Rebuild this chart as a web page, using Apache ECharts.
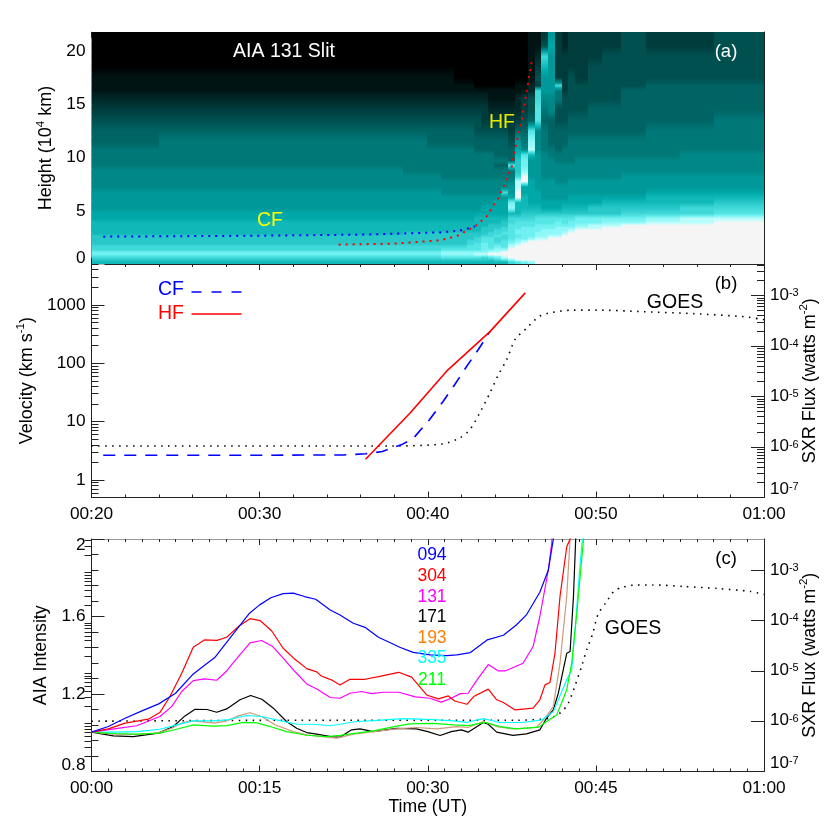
<!DOCTYPE html>
<html><head><meta charset="utf-8">
<style>html,body{margin:0;padding:0;background:#fff}#c{width:830px;height:830px}</style>
<script src="https://cdn.jsdelivr.net/npm/echarts@6/dist/echarts.min.js"></script>
</head><body><div id="c"></div>
<script>
// ---------- panel (a): height-time map, one code per cell, top row first ----------
const timeEdges = [20,24,28,32,35,37,38.5,39.96,40.76,41.56,42.36,42.76,43.16,43.56,43.96,44.36,44.76,45.16,45.56,45.96,46.36,46.76,47.16,47.56,47.96,48.36,48.76,49.56,50.36,51.5,53,55,57,60];
const heightEdges = [0,.25,.5,.75,1,1.25,1.5,1.75,2,2.25,2.5,2.75,3,3.25,3.5,3.75,4,4.5,5,5.5,6,6.5,7,7.5,8,8.5,9,9.5,10,10.5,11,12,13,14,15,16,16.5,17,18,19,20,21,21.8];
const levelColors = ['#000000','#001414','#002828','#003c3c','#005050','#006464','#007878','#008888','#009898','#00a8a8','#10b8b8','#28c8c8','#40d8d8','#55e5e5','#70f0f0','#90f8f8','#b8fcfc','#f5f5f5'];
const heatRows = [
['0000000000000000','00011383','233334334'],
['0000000000000000','00011493','233334334'],
['0000000000000000','00012c83','333344444'],
['0000000000000000','00013a83','333444444'],
['1111111110000000','00014883','343444444'],
['1111111111100000','0112388c','344444555'],
['1111111111111111','1112c886','344445555'],
['2222222222222111','1234c776','444445555'],
['3333333333333222','2234d674','444555555'],
['4444444444443333','3345d554','455555556'],
['5555555555544444','355d7655','555555666'],
['5666666555555555','486f7655','566666666'],
['6666666666655555','597g7665','666666666'],
['6666666666666655','5ada8766','666666677'],
['6666666666666666','5be88776','667777777'],
['6666666666666655','dbe88777','777777777'],
['7777776666666666','6bf88777','777777777'],
['7777777766666666','6ch88777','777778888'],
['7777777777777777','7gh98887','788888888'],
['7777777777777777','8g998888','888888888'],
['888888887777777c','8h999888','888888999'],
['8888888888888888','9ha99888','899999aaa'],
['8888888888888899','eaa99999','9999aaaab'],
['8888888888889999','faaaa999','aaabbbbcc'],
['9999999999999999','aabbbbbb','bbbbbcccd'],
['99999999999aaaaa','ccccdddd','ddeeeefgg'],
['aaaaaaaaaaaaaaab','cdddddde','deeeffggh'],
['aaaaaaaaaaaaabbb','ddddeeee','eefgghhhh'],
['aaaaaaaaaaaabbbc','ddeeeeef','ffgghhhhh'],
['aaaaaaaaaaaabbcc','deeeefff','fghhhhhhh'],
['aaaaaabbbbbbbccd','deeeffff','ghhhhhhhh'],
['bbbbbbbbbbbbccdc','ddeeffgg','hhhhhhhhh'],
['bbbbbbbbbbbcddcc','deefgghh','hhhhhhhhh'],
['bbbbbbbbbbccddcd','efghhhhh','hhhhhhhhh'],
['bbbbbbbbbbcdeddd','fghhhhhh','hhhhhhhhh'],
['ccccccccccddeded','ghhhhhhh','hhhhhhhhh'],
['ccccccccddddeeff','hhhhhhhh','hhhhhhhhh'],
['eeeeeeeefffffggh','hhhhhhhh','hhhhhhhhh'],
['eeeeeeeefffgghhh','hhhhhhhh','hhhhhhhhh'],
['ccccccccddddcdeg','hhhhhhhh','hhhhhhhhh'],
['bbbbbbbbbbbbbbcd','fhhhhhhh','hhhhhhhhh'],
['aaaaaaaaaaaaaaaa','cdefhhhh','hhhhhhhhh']
];
const cfTrack = [[20.7,2.57],[30,2.66],[36,2.76],[40.7,2.97],[41.9,3.13],[42.8,3.53]];
const hfTrack = [[34.7,1.82],[37.9,1.91],[39.9,2.13],[40.7,2.22],[41.7,2.6],[42.8,3.53],[43.5,4.47],[44.2,6.2],[44.6,7.6],[45,9.17],[45.25,11.2],[45.55,13.2],[45.8,15.4],[46,17.3],[46.2,19.2]];
// ---------- panel (b): velocities ----------
const cfVelocity = [[20.7,2.65],[30,2.65],[35,2.68],[36.3,2.8],[37.3,3.06],[38.5,4.1],[39.1,5],[40.1,10.7],[40.9,21.9],[41.6,42.7],[42.3,87],[43,170],[43.7,348]];
const hfVelocity = [[36.3,2.26],[38.95,14],[41.2,77],[43.7,347],[45.8,1600]];
// ---------- GOES flux, log10 of watts m-2 ----------
const goesTime = [0,20,38,40.9,41.9,42.5,43.1,43.7,44.2,44.7,45.2,45.9,46.6,47.3,48.6,50.1,52.8,55.8,58.8,60];
const goesLogFlux = [-6.0,-5.98,-5.98,-5.94,-5.82,-5.66,-5.32,-4.93,-4.57,-4.27,-3.87,-3.64,-3.42,-3.34,-3.29,-3.29,-3.32,-3.36,-3.42,-3.48];
// ---------- panel (c): AIA intensities ----------
const a094 = [[0,1.003],[1.5,1.032],[3,1.075],[4.5,1.113],[6,1.149],[7.5,1.204],[9,1.299],[10,1.345],[11,1.388],[12,1.462],[14.1,1.617],[15,1.66],[16,1.697],[17.1,1.718],[18,1.721],[19,1.703],[20,1.689],[21.3,1.634],[22.17,1.608],[23.36,1.565],[24.4,1.544],[25.6,1.493],[26.9,1.458],[27.5,1.441],[28.7,1.415],[30.2,1.402],[31.7,1.398],[32.6,1.402],[33.8,1.414],[35.3,1.479],[36.75,1.503],[37.9,1.556],[38.8,1.608],[40,1.725],[40.76,1.84],[41.2,1.998],[41.4,2.2]];
const a304 = [[0,1.003],[1.5,1.02],[3,1.05],[5.07,1.07],[6.1,1.104],[7,1.187],[8.05,1.307],[9.08,1.441],[10.07,1.479],[11.2,1.477],[12.06,1.493],[13.1,1.548],[14.14,1.589],[15.04,1.579],[16.08,1.525],[17.1,1.436],[18.15,1.379],[19.2,1.331],[20.1,1.314],[20.5,1.293],[21.4,1.273],[22.17,1.246],[23.06,1.276],[24.4,1.276],[25.6,1.29],[27.4,1.312],[28.56,1.287],[29.9,1.195],[30.95,1.175],[31.84,1.19],[32.4,1.164],[33.5,1.147],[34.1,1.187],[35.4,1.225],[36.15,1.17],[36.75,1.156],[37.8,1.118],[39.4,1.127],[40,1.17],[40.46,1.247],[40.9,1.259],[41.35,1.41],[41.8,1.703],[42.4,1.96],[42.7,2.0],[43,2.2]];
const a131 = [[0,1.003],[2,1.02],[4.03,1.036],[6.1,1.084],[7.15,1.135],[8.05,1.213],[9.08,1.269],[10.1,1.278],[11.17,1.271],[12.06,1.319],[13.1,1.393],[14.14,1.464],[15.18,1.476],[16.17,1.445],[17.1,1.385],[18.15,1.316],[19.2,1.252],[20.1,1.226],[21.3,1.182],[22.17,1.178],[23.06,1.204],[24.1,1.213],[25,1.202],[26,1.209],[27.4,1.209],[28.9,1.185],[30.2,1.178],[31.2,1.158],[32.1,1.178],[32.9,1.202],[33.6,1.204],[34.4,1.273],[35.4,1.352],[36.3,1.319],[36.9,1.319],[38.5,1.359],[39.4,1.445],[40,1.6],[40.76,1.84],[41.06,1.978],[41.2,2.2]];
const a171 = [[0,1.003],[1.95,.984],[3.73,.98],[5.96,.998],[7.3,1.032],[8.34,1.087],[9.24,1.121],[10.3,1.12],[11.17,1.106],[12.06,1.123],[13.25,1.17],[14.2,1.192],[15.2,1.173],[16.2,1.128],[17.4,1.058],[18.3,1.023],[19.2,1.001],[20.1,.993],[21.6,.977],[22.17,.977],[23.2,1.015],[23.95,1.02],[25.15,1.006],[27.2,1.023],[29,1.02],[30,1.006],[31.1,.986],[32.1,1.006],[33,1.015],[33.6,1.003],[34.96,1.053],[35.4,1.044],[36.15,1.003],[37.6,.986],[38.8,.994],[40,1.015],[40.6,1.075],[41.2,1.118],[41.65,1.204],[42.4,1.41],[42.7,1.419],[43,1.703],[43.2,2.0],[43.4,2.2]];
const a193 = [[0,1.003],[1.96,.993],[4.03,.991],[5.96,1.0],[7.15,1.023],[8.2,1.054],[9.08,1.061],[11,1.05],[12.06,1.061],[13.1,1.087],[14.14,1.103],[15.18,1.084],[16.37,1.041],[18,1.006],[19.2,.989],[21,.977],[21.9,.972],[23.36,.993],[25.15,1.006],[27.2,1.02],[29,1.027],[30.8,1.02],[32.6,1.032],[33.6,1.027],[34.96,1.058],[36.15,1.032],[37.6,1.02],[39.7,1.027],[40.46,1.075],[41.2,1.135],[41.8,1.359],[42.4,1.703],[42.7,2.0],[42.9,2.2]];
const a335 = [[0,1.003],[1.96,1.003],[4.03,1.006],[6.1,1.018],[7.6,1.041],[9.08,1.061],[10.9,1.061],[12.06,1.066],[13.85,1.089],[15.18,1.084],[16.8,1.063],[18.3,1.044],[19.8,1.044],[21.3,1.036],[23.66,1.058],[25.15,1.063],[27.8,1.073],[30.5,1.068],[32.3,1.061],[33.5,1.054],[34.96,1.073],[36.45,1.053],[38.5,1.053],[40.17,1.066],[41.2,1.109],[42.4,1.273],[42.84,1.324],[43.14,1.53],[43.6,1.874],[43.8,2.0],[44,2.2]];
const a211 = [[0,1.003],[1.96,.996],[4.03,.993],[6.1,.998],[7.6,1.018],[9.08,1.041],[10.9,1.034],[12.06,1.037],[13.55,1.054],[14.75,1.051],[15.94,1.032],[17.4,1.006],[19.2,.987],[21,.98],[22.17,.986],[23.66,.998],[25.15,1.01],[27,1.032],[28.4,1.046],[30.5,1.048],[32.3,1.041],[33.6,1.037],[35.1,1.054],[36.45,1.032],[37.9,1.02],[39.9,1.029],[40.6,1.058],[41.5,1.092],[42.4,1.221],[42.84,1.359],[43.3,1.617],[43.9,2.0],[44.1,2.2]];
const channelNames = ['094','304','131','171','193','335','211'];
const channelValues = [a094,a304,a131,a171,a193,a335,a211];
const channelLineColors = ['#0000ff','#ff0000','#ff00ff','#000000','#cc9a78','#00ffff','#00ff00'];
const channelTextColors = ['#0000ff','#ff0000','#ff00ff','#000000','#ff7f00','#00ffff','#00ff00'];
// ---------- axis ticks ----------
const heightMajor = [0,5,10,15,20];
const heightMinor = [1,2,3,4,6,7,8,9,11,12,13,14,16,17,18,19,21];
const velocityMajor = [1,10,100,1000];
const velocityMinor = [.5,.6,.7,.8,.9,2,3,4,5,6,7,8,9,20,30,40,50,60,70,80,90,200,300,400,500,600,700,800,900,2000,3000,4000,5000];
const fluxMajor = [1e-7,1e-6,1e-5,1e-4,1e-3];
const fluxMinor = [2e-7,3e-7,4e-7,5e-7,6e-7,7e-7,8e-7,9e-7,2e-6,3e-6,4e-6,5e-6,6e-6,7e-6,8e-6,9e-6,2e-5,3e-5,4e-5,5e-5,6e-5,7e-5,8e-5,9e-5,2e-4,3e-4,4e-4,5e-4,6e-4,7e-4,8e-4,9e-4,2e-3,3e-3,4e-3];

const FONT = '"Liberation Sans", Arial, sans-serif';
const INK = '#222';
const goesData = goesTime.map((t,i)=>[t,Math.pow(10,goesLogFlux[i])]);
const hhmm = v=>{const h=Math.floor(v/60),m=v%60;return String(h).padStart(2,'0')+':'+String(m).padStart(2,'0');};
// cells: each one shades from the blend with its upper neighbour to the blend with its lower neighbour
const rowLevels = heatRows.map(p=>Array.from(p.join('')).map(ch=>parseInt(ch,36)));
const rgb = levelColors.map(h=>[1,3,5].map(i=>parseInt(h.substr(i,2),16)));
const shade = l=>{const i=Math.floor(l),f=l-i,a=rgb[i],b=rgb[Math.min(i+1,rgb.length-1)];return 'rgb('+a.map((v,k)=>Math.round(v+(b[k]-v)*f)).join(',')+')';};
const heatCells = [];
rowLevels.forEach((row,i)=>{
  const r = heightEdges.length-2-i;
  row.forEach((lv,c)=>{
    const up = i>0?rowLevels[i-1][c]:lv, dn = i<rowLevels.length-1?rowLevels[i+1][c]:lv;
    heatCells.push([timeEdges[c],timeEdges[c+1],heightEdges[r],heightEdges[r+1],lv,(lv+up)/2,(lv+dn)/2]);
  });
});
const supStyle = lh=>({b:{fontSize:17,fontFamily:FONT,color:'#000',lineHeight:lh,verticalAlign:'bottom'},s:{fontSize:11,fontFamily:FONT,color:'#000',lineHeight:lh,verticalAlign:'top'}});
const nameRich = {t:{fontSize:18,fontFamily:FONT,color:'#000',lineHeight:21,verticalAlign:'bottom'},s:{fontSize:11.5,fontFamily:FONT,color:'#000',lineHeight:21,verticalAlign:'top'}};
const xAxisPair = (grid,min,max,interval,split,labels,extra)=>[
 Object.assign({type:'value',gridIndex:grid,min,max,interval,position:'bottom',
  axisLine:{show:true,onZero:false,lineStyle:{color:INK,width:1}},splitLine:{show:false},
  axisTick:{inside:true,length:6,lineStyle:{color:INK}},minorTick:{show:true,splitNumber:split,length:3,lineStyle:{color:INK}},
  axisLabel:{show:labels,formatter:hhmm,fontSize:17.3,fontFamily:FONT,color:'#000',margin:8}},extra||{}),
 {type:'value',gridIndex:grid,min,max,interval,position:'top',
  axisLine:{show:true,onZero:false,lineStyle:{color:grid===1?INK:'#999',width:1}},splitLine:{show:false},
  axisTick:{inside:true,length:6,lineStyle:{color:INK}},minorTick:{show:true,splitNumber:split,length:3,lineStyle:{color:INK}},
  axisLabel:{show:false}}
];
const yCustom = (grid,type,min,max,pos,major,minor,opts)=>{
  opts = opts||{};
  const tickColor = opts.tickColor||INK;
  return [
  Object.assign({type,gridIndex:grid,min,max,position:pos,
    axisLine:{show:true,onZero:false,lineStyle:{color:opts.lineColor||INK,width:1}},splitLine:{show:false},minorTick:{show:false},
    axisTick:{show:true,inside:true,length:13,customValues:major,lineStyle:{color:tickColor}},
    axisLabel:Object.assign({show:!!opts.formatter,customValues:major,formatter:opts.formatter,fontSize:17.3,fontFamily:FONT,color:'#000',margin:opts.margin||6},opts.label||{})},opts.axis||{}),
  {type,gridIndex:grid,min,max,position:pos,
    axisLine:{show:false},splitLine:{show:false},minorTick:{show:false},
    axisTick:{show:true,inside:true,length:7,customValues:minor,lineStyle:{color:tickColor}},axisLabel:{show:false}}
  ];
};
const supLabel = v=>'{b|10}{s|'+Math.round(Math.log10(v))+'}';
const rightName = {name:'{t|SXR Flux (watts m}{s|-2}{t|)}',nameLocation:'middle',nameRotate:90,nameGap:34,nameMoveOverlap:false,nameTextStyle:{rich:nameRich}};
const xAxes = [].concat(
  xAxisPair(0,20,60,10,5,false),
  xAxisPair(1,20,60,10,5,true),
  xAxisPair(2,0,60,15,10,true,{name:'Time (UT)',nameLocation:'middle',nameGap:27,nameTextStyle:{fontSize:17.6,fontFamily:FONT,color:'#000'}})
);
const yAxes = [].concat(
  yCustom(0,'value',0,21.8,'left',heightMajor,heightMinor,{tickColor:'#b8b8b8',lineColor:'#888',formatter:v=>String(v),label:{verticalAlignMinLabel:'bottom',lineHeight:12},axis:{name:'{t|Height (10}{s|4}{t| km)}',nameLocation:'middle',nameRotate:90,nameGap:34,nameTextStyle:{rich:nameRich}}}),  // 0,1
  yCustom(0,'value',0,21.8,'right',heightMajor,heightMinor,{}),                                    // 2,3
  yCustom(1,'log',.5,5000,'left',velocityMajor,velocityMinor,{formatter:v=>String(Math.round(v)),axis:{name:'{t|Velocity (km s}{s|-1}{t|)}',nameLocation:'middle',nameRotate:90,nameGap:54,nameTextStyle:{rich:nameRich}}}), // 4,5
  yCustom(1,'log',1e-7,4.2e-3,'right',fluxMajor,fluxMinor,{formatter:supLabel,margin:6,label:{rich:supStyle(16),verticalAlignMinLabel:'bottom'},axis:rightName}),     // 6,7
  [{type:'value',gridIndex:2,min:.8,max:2,interval:.4,position:'left',
    axisLine:{show:true,onZero:false,lineStyle:{color:INK}},splitLine:{show:false},
    axisTick:{inside:true,length:13,lineStyle:{color:INK}},minorTick:{show:true,splitNumber:5,length:7,lineStyle:{color:INK}},
    axisLabel:{fontSize:17.3,fontFamily:FONT,color:'#000',margin:6,lineHeight:12,verticalAlignMinLabel:'bottom',verticalAlignMaxLabel:'top'},
    name:'AIA Intensity',nameLocation:'middle',nameRotate:90,nameGap:40,nameTextStyle:{fontSize:17.8,fontFamily:FONT,color:'#000'}}], // 8
  yCustom(2,'log',1e-7,4.2e-3,'right',fluxMajor,fluxMinor,{formatter:supLabel,margin:6,label:{rich:supStyle(16),verticalAlignMinLabel:'bottom'},axis:rightName})          // 9,10
);
const dotted = {type:[1.5,5.5],width:1.6,color:'#000'};
const series = [
 {type:'custom',xAxisIndex:0,yAxisIndex:0,silent:true,clip:true,progressive:0,data:heatCells,
  encode:{x:[0,1],y:[2,3]},
  renderItem(params,api){
    const a=api.coord([api.value(0),api.value(3)]),b=api.coord([api.value(1),api.value(2)]);
    const x=Math.round(a[0]),y=Math.round(a[1]);
    return {type:'rect',shape:{x,y,width:Math.round(b[0])-x,height:Math.round(b[1])-y},
      style:{fill:{type:'linear',x:0,y:0,x2:0,y2:1,colorStops:[{offset:0,color:shade(api.value(5))},{offset:.5,color:shade(api.value(4))},{offset:1,color:shade(api.value(6))}]}}};
  }},
 {type:'line',xAxisIndex:0,yAxisIndex:0,data:cfTrack,symbol:'none',z:5,lineStyle:{color:'#0000ff',width:2,type:[2,5]}},
 {type:'line',xAxisIndex:0,yAxisIndex:0,data:hfTrack,symbol:'none',z:6,lineStyle:{color:'#ff0000',width:2,type:[2,5]}},
 {type:'line',xAxisIndex:2,yAxisIndex:6,data:goesData,symbol:'none',smooth:.25,z:3,lineStyle:dotted},
 {type:'line',xAxisIndex:2,yAxisIndex:4,data:cfVelocity,symbol:'none',z:4,lineStyle:{color:'#0000ff',width:1.6,type:[12,9]}},
 {type:'line',xAxisIndex:2,yAxisIndex:4,data:hfVelocity,symbol:'none',z:5,lineStyle:{color:'#ff0000',width:1.6}},
 {type:'line',xAxisIndex:4,yAxisIndex:9,data:goesData,symbol:'none',smooth:.25,z:3,lineStyle:dotted}
];
channelValues.forEach((vals,i)=>series.push({type:'line',name:channelNames[i],xAxisIndex:4,yAxisIndex:8,data:vals,symbol:'none',z:[9,8,7,4,5,6,6][i],lineStyle:{color:channelLineColors[i],width:1.2}}));
const txt = (text,x,y,fill,size)=>({type:'text',z:100,silent:true,style:{text,x,y,fill,font:(size||17)+'px '+FONT,textAlign:'center',textVerticalAlign:'middle'}});
const channelY = [555,576,597,617,638,658,680];
const graphics = [
 txt('AIA 131 Slit',284,52,'#fff',19.5),txt('(a)',726,52,'#fff',18.5),txt('CF',270,221,'#ffff00',19.5),txt('HF',502,123,'#e8e800',19.5),
 txt('(b)',726,284,'#000',18.5),txt('GOES',675,303,'#000',19.5),txt('CF',171,290,'#0000ff',19.5),txt('HF',171,314,'#ff0000',19.5),
 {type:'line',z:100,silent:true,shape:{x1:191.5,y1:292,x2:241.5,y2:292},style:{stroke:'#0000ff',lineWidth:1.6,lineDash:[10,10]}},
 {type:'line',z:100,silent:true,shape:{x1:191.5,y1:314,x2:241.5,y2:314},style:{stroke:'#ff0000',lineWidth:1.6}},
 txt('(c)',726,559,'#000',18.5),txt('GOES',633,629,'#000',19.5)
].concat(channelNames.map((n,i)=>txt(n,432,channelY[i],channelTextColors[i],17.5)));
const chart = echarts.init(document.getElementById('c'),null,{renderer:'canvas',width:830,height:830});
chart.setOption({
  animation:false,backgroundColor:'#fff',textStyle:{fontFamily:FONT},
  grid:[
    {left:91.5,right:66,top:32,height:232,outerBoundsMode:'none'},
    {left:91.5,right:66,top:264,height:233.5,outerBoundsMode:'none'},
    {left:91.5,right:66,top:539,height:232.5,outerBoundsMode:'none'}
  ],
  xAxis:xAxes,yAxis:yAxes,series,graphic:graphics
});
</script></body></html>
